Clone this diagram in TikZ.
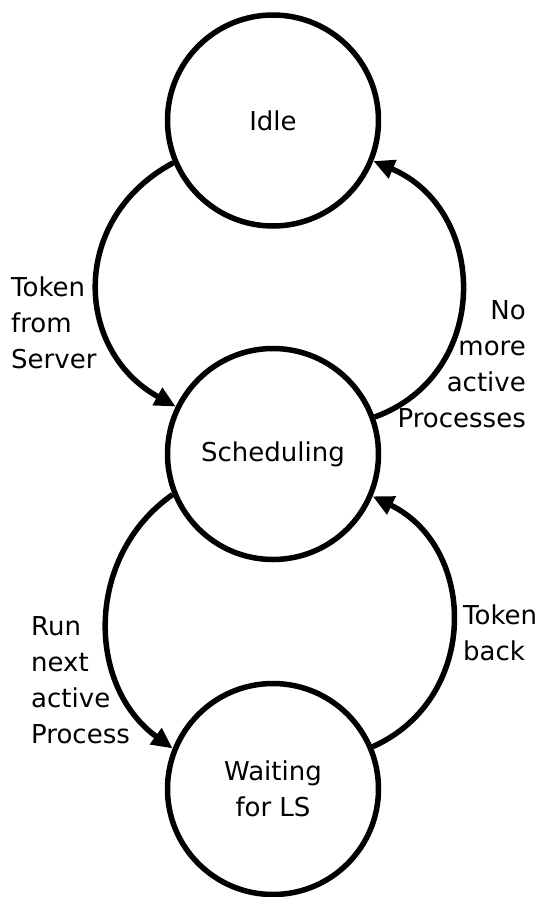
\documentclass[tikz,border=0pt]{standalone}
\usepackage{fontspec}
\setmainfont{DejaVu Sans}
\usetikzlibrary{arrows.meta}
\begin{document}
\begin{tikzpicture}[x=1pt,y=-1pt,
  state/.style={circle,draw,line width=5.5pt,minimum size=211pt,inner sep=0pt,
    font=\fontsize{26}{36}\selectfont,align=center},
  lbl/.style={inner sep=0pt,font=\fontsize{26}{36}\selectfont},
  trans/.style={line width=5.5pt,-{Triangle[length=21pt,width=19pt]}}]
\useasboundingbox (0,0) rectangle (539,897);
% states
\node[state] (idle)  at (273,120.5) {Idle};
\node[state] (sched) at (273,454)   {Scheduling};
\node[state] (wait)  at (273,789)   {Waiting\\ for LS};
% transitions
\draw[trans] (idle.203)  to[out=208,in=151,distance=117pt] (sched.154);
\draw[trans] (sched.20)  to[out=20,in=337,distance=125pt]  (idle.338);
\draw[trans] (sched.202) to[out=215,in=144,distance=107pt] (wait.158);
\draw[trans] (wait.23)   to[out=24,in=334,distance=117pt]  (sched.337);
% transition labels (anchored at the baseline of the last line)
\node[lbl,anchor=base west,align=left]  (tfs) at (11,368)  {Token\\from\\Server};
\node[lbl,anchor=base east,align=right] (nmp) at (526,427) {No\\more\\active\\Processes};
\node[lbl,anchor=base west,align=left]  (rnp) at (31,743)  {Run\\next\\active\\Process};
\node[lbl,anchor=base west,align=left]  (tb)  at (463,660) {Token\\back};
\end{tikzpicture}
\end{document}
